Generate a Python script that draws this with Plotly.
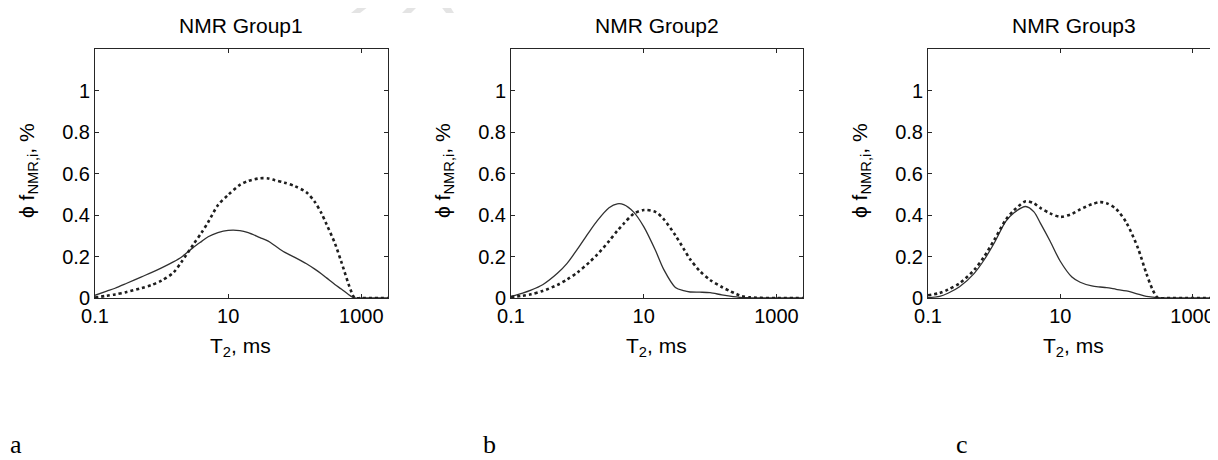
import plotly.graph_objects as go

# T2 grid (ms) at which the curves were read
T2 = [0.1, 0.15, 0.2, 0.3, 0.5, 0.7, 1, 1.5, 2, 3, 4, 5, 7, 10, 15, 20, 30, 40, 50,
      70, 100, 150, 200, 250, 300, 400, 500, 700, 800, 1000, 2500]

g1_solid = [0.013, 0.033, 0.047, 0.071, 0.102, 0.122, 0.145, 0.174, 0.198, 0.244, 0.273,
            0.295, 0.315, 0.326, 0.325, 0.315, 0.291, 0.274, 0.253, 0.221, 0.196, 0.165,
            0.139, 0.117, 0.097, 0.065, 0.043, 0.008, 0.0, 0.0, 0.0]
g1_dotted = [0.002, 0.011, 0.017, 0.029, 0.048, 0.062, 0.084, 0.122, 0.175, 0.258, 0.316,
             0.365, 0.447, 0.497, 0.545, 0.564, 0.577, 0.576, 0.568, 0.556, 0.539, 0.509,
             0.463, 0.410, 0.355, 0.264, 0.174, 0.034, 0.0, 0.0, 0.0]

g2_solid = [0.008, 0.024, 0.038, 0.064, 0.119, 0.167, 0.235, 0.318, 0.373, 0.435, 0.454,
            0.450, 0.415, 0.344, 0.230, 0.138, 0.051, 0.035, 0.029, 0.028, 0.026, 0.015,
            0.009, 0.005, 0.002, 0.001, 0.0, 0.0, 0.0, 0.0, 0.0]
g2_dotted = [0.005, 0.011, 0.018, 0.034, 0.063, 0.089, 0.123, 0.171, 0.210, 0.274, 0.324,
             0.358, 0.405, 0.424, 0.415, 0.380, 0.302, 0.237, 0.187, 0.130, 0.087, 0.053,
             0.033, 0.019, 0.009, 0.003, 0.001, 0.0, 0.0, 0.0, 0.0]

g3_solid = [0.002, 0.008, 0.023, 0.054, 0.119, 0.182, 0.264, 0.369, 0.411, 0.441, 0.415,
            0.361, 0.275, 0.177, 0.101, 0.076, 0.058, 0.053, 0.050, 0.042, 0.034, 0.019,
            0.008, 0.004, 0.002, 0.0, 0.0, 0.0, 0.0, 0.0, 0.0]
g3_dotted = [0.013, 0.024, 0.040, 0.071, 0.135, 0.198, 0.279, 0.377, 0.423, 0.466, 0.456,
             0.434, 0.408, 0.391, 0.405, 0.427, 0.452, 0.462, 0.457, 0.429, 0.363, 0.239,
             0.119, 0.039, 0.0, 0.0, 0.0, 0.0, 0.0, 0.0, 0.0]

titles = ["NMR Group1", "NMR Group2", "NMR Group3"]
panel_letters = ["a", "b", "c"]
x_tick_vals = [0.1, 10, 1000]
x_tick_text = ["0.1", "10", "1000"]
y_tick_vals = [0, 0.2, 0.4, 0.6, 0.8, 1]
y_tick_text = ["0", "0.2", "0.4", "0.6", "0.8", "1"]

# The page body has an 8px margin, so the figure is drawn 8px in from the window corner.
OFF = 8
SW, SH = 1218, 460           # window size
W, H = SW - OFF, SH - OFF    # figure size

def fx(sx):
    return (sx - OFF) / W

def fy(sy):
    return 1 - (sy - OFF) / H

# panel boxes in window pixels
panels_px = [(95, 387), (511, 802), (928, 1218)]
top_px, bot_px = 49, 298
x_ranges = [[-1, 3.4], [-1, 3.4], [-1, 3.385]]
letter_left_px = [9, 482, 955]

series = [(g1_solid, g1_dotted), (g2_solid, g2_dotted), (g3_solid, g3_dotted)]

SANS = "Liberation Sans, Arial, sans-serif"
SERIF = "Liberation Serif, Times New Roman, serif"
AX = "#262626"

fig = go.Figure()
layout = dict(
    width=W, height=H,
    margin=dict(l=0, r=0, t=0, b=0, autoexpand=False),
    paper_bgcolor="white", plot_bgcolor="white",
    showlegend=False,
    font=dict(family=SANS, color="black"),
)
annotations = []
for i, ((l, r), (s, d)) in enumerate(zip(panels_px, series)):
    n = "" if i == 0 else str(i + 1)
    xa, ya = "x" + n, "y" + n
    fig.add_trace(go.Scatter(x=T2, y=s, mode="lines", xaxis=xa, yaxis=ya,
                             line=dict(color="#303030", width=1.3, shape="spline", smoothing=0.8)))
    fig.add_trace(go.Scatter(x=T2, y=d, mode="lines", xaxis=xa, yaxis=ya,
                             line=dict(color="#1e1e1e", width=2.6, dash="dot", shape="spline",
                                       smoothing=0.8)))
    layout["xaxis" + n] = dict(
        domain=[fx(l), min(fx(r + 1), 1.0)], anchor=ya, type="log", range=x_ranges[i],
        tickvals=x_tick_vals, ticktext=x_tick_text, ticks="inside", ticklen=4,
        tickcolor=AX, showline=True, linecolor=AX, linewidth=1, mirror="ticks",
        showgrid=False, zeroline=False, automargin=False,
        tickfont=dict(family=SANS, size=20, color="black"),
    )
    layout["yaxis" + n] = dict(
        domain=[fy(bot_px), fy(top_px)], anchor=xa, range=[0, 1.2],
        tickvals=y_tick_vals, ticktext=y_tick_text, ticks="inside", ticklen=4,
        tickcolor=AX, showline=True, linecolor=AX, linewidth=1, mirror="ticks",
        showgrid=False, zeroline=False, automargin=False,
        tickfont=dict(family=SANS, size=20, color="black"),
    )
    cx = l + 291 / 2
    annotations.append(dict(text=titles[i], x=fx(cx), y=fy(26),
                            xref="paper", yref="paper", showarrow=False,
                            xanchor="center", yanchor="middle",
                            font=dict(family=SANS, size=21, color="black")))
    annotations.append(dict(text="T<sub>2</sub>, ms", x=fx(cx), y=fy(347),
                            xref="paper", yref="paper", showarrow=False,
                            xanchor="center", yanchor="middle",
                            font=dict(family=SANS, size=21, color="black")))
    annotations.append(dict(text="\u03d5 f<sub>NMR,i</sub>, %", x=fx(l - 67),
                            y=fy(171), xref="paper", yref="paper", showarrow=False,
                            textangle=-90, xanchor="center", yanchor="middle",
                            font=dict(family=SANS, size=21, color="black")))
    annotations.append(dict(text=panel_letters[i], x=fx(letter_left_px[i]), y=0,
                            xref="paper", yref="paper", showarrow=False,
                            xanchor="left", yanchor="bottom", borderpad=0,
                            font=dict(family=SERIF, size=26, color="black")))

# faint fragments of the background watermark visible in the top strip
WM = "#e4e4e4"
wm_polys = [
    [(351, 13), (360, 13), (377, 0), (367, 0)],
    [(402, 13), (411, 13), (424, 0), (415, 0)],
    [(436, 0), (446, 0), (454, 13), (446, 13)],
]
shapes = []
for poly in wm_polys:
    path = "M " + " L ".join(f"{fx(px):.5f},{fy(py):.5f}" for px, py in poly) + " Z"
    shapes.append(dict(type="path", path=path, xref="paper", yref="paper",
                       fillcolor=WM, line=dict(width=0), layer="below"))

layout["annotations"] = annotations
layout["shapes"] = shapes
fig.update_layout(**layout)
fig.write_html("out.html")
